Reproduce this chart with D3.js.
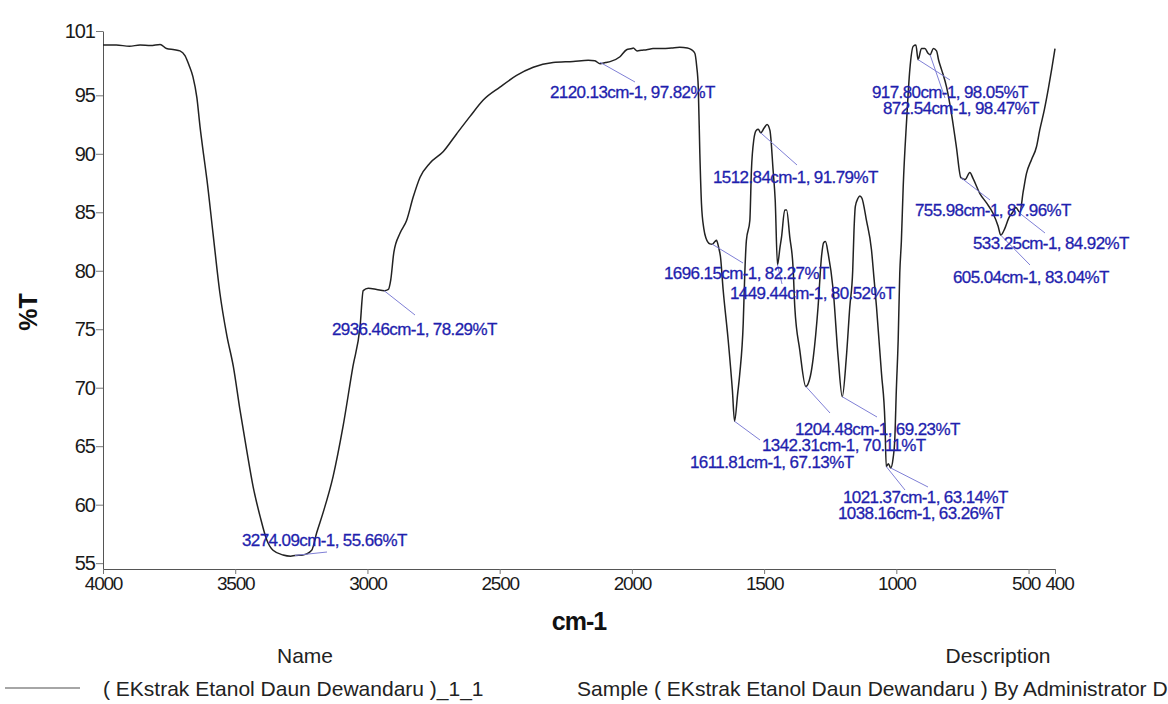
<!DOCTYPE html>
<html>
<head>
<meta charset="utf-8">
<script src="https://cdn.jsdelivr.net/npm/d3@7/dist/d3.min.js"></script>
<style>
body{margin:0;background:#fff}
svg{display:block}
</style>
</head>
<body>
<div id="chart"></div>
<script>

// spectrum (cm-1, %T)
const wavenumber=[4000,3950,3900,3860,3820,3784,3760,3730,3709,3690,3675,3660,3645,3633,3620,3607,3584,3558,3532,3507,3482,3457,3432,3406,3381,3357,3319,3290,3274.09,3244,3211,3192,3168,3130,3093,3055,3028,3016,2997,2965,2936.46,2921,2912,2900,2877,2852,2827,2801,2764,2713,2663,2612,2562,2499,2436,2373,2298,2222,2165,2140,2120.13,2100,2080,2045,2020,2000,1995,1980,1965,1944,1920,1882,1850,1819,1790,1775,1762,1755,1749,1743,1737,1728,1720,1705,1696.15,1686,1680,1672,1665,1655,1636,1620,1611.81,1600,1592,1579,1573,1567,1554,1548,1539,1530,1522,1512.84,1500,1489,1478,1466,1458,1449.44,1440,1434,1422,1415,1403,1390,1384,1365,1342.31,1325,1314,1296,1283,1275,1268,1258,1239,1220,1204.48,1189,1176,1165,1160,1155,1145,1138,1130,1113,1094,1085,1075,1056,1043,1038.16,1030,1021.37,1012,1006,1000,993,987,981,974,961,949,936,926,917.8,905,892,880,872.54,860,848,840,829,810,792,773,755.98,740,722,710,684,659,634,615,605.04,590,575,560,548,533.25,520,508,489,470,458,440,425,412,400]
const transmittance=[99.3,99.3,99.2,99.3,99.25,99.35,99.0,98.9,98.8,98.4,97.6,96.6,94.8,92.3,90.0,87.8,83.2,78.1,74.5,71.8,68.1,64.7,61.5,59.0,57.0,56.1,55.7,55.6,55.66,55.7,56.1,57.6,59.3,62.4,66.6,71.8,75.2,78.3,78.5,78.4,78.29,78.4,79.2,81.6,83.2,84.3,86.3,88.0,89.2,90.2,91.7,93.2,94.6,95.7,96.7,97.4,97.8,97.9,98.0,97.95,97.7,97.8,97.9,98.3,98.9,99.0,99.05,98.8,98.85,98.9,99.0,99.0,99.05,99.1,99.05,98.9,98.6,97.5,95.7,90.0,85.8,83.6,82.8,82.3,82.27,82.5,82.6,82.0,81.2,78.4,74.1,69.8,67.13,69.5,71.2,75.5,79.8,82.6,84.3,88.6,91.2,92.0,92.1,91.79,92.2,92.5,92.0,88.6,86.0,80.52,82.0,82.9,85.2,85.2,82.9,80.1,76.9,73.2,70.11,71.0,72.6,76.9,81.2,82.4,82.5,81.5,78.4,72.6,69.23,72.6,76.9,80.0,83.5,85.5,86.2,86.4,86.2,84.3,81.8,79.5,76.9,71.2,67.0,63.26,63.5,63.14,64.0,65.5,69.8,74.1,79.8,82.5,87.2,92.9,97.2,99.2,99.3,98.05,99.0,99.0,98.6,98.47,99.0,98.8,98.0,97.2,95.7,93.5,90.6,87.96,87.8,88.4,87.9,86.6,85.8,84.9,83.8,83.04,83.6,84.5,85.0,85.4,85.0,86.8,88.3,89.5,90.6,92.0,93.8,95.6,97.3,99.0]

const xTicks=[4000,3500,3000,2500,2000,1500,1000,500,400]
const yTicks=[55,60,65,70,75,80,85,90,95,100.5]
const yTickText=["55","60","65","70","75","80","85","90","95","101"]

// peak picks printed on the plot
const peakWn=[3274.09,2936.46,2120.13,1696.15,1611.81,1512.84,1449.44,1342.31,1204.48,1021.37,1038.16,917.80,872.54,755.98,533.25,605.04]
const peakT=[55.66,78.29,97.82,82.27,67.13,91.79,80.52,70.11,69.23,63.14,63.26,98.05,98.47,87.96,84.92,83.04]

const legendName="( EKstrak Etanol Daun Dewandaru )_1_1"
const legendDesc="Sample ( EKstrak Etanol Daun Dewandaru ) By Administrator Date"

// label text position (left, middle) and leader end, in px
const labelPos=[
[242,540,327,552],
[332,329,415,315],
[550,92,635,82],
[664,273,743,263],
[690,462,760,440],
[713,177,797,165],
[730,293,782,284],
[762,445,830,413],
[795,429,877,417],
[843,497,928,487],
[838,513,905,490],
[872,92,950,80],
[883,108,945,98],
[915,210,990,200],
[973,243,1045,233],
[953,277,1030,265]
]

const width=1168
const height=704

const svg=d3.select("#chart")
.append("svg")
.attr("width",width)
.attr("height",height)
.style("font-family","'Liberation Sans',Arial,sans-serif")

const x=d3.scaleLinear().domain([4000,400]).range([103,1055])
const y=d3.scaleLinear().domain([54.5,100.5]).range([569,31])

// axes
const yAxis=svg.append("g")
.attr("transform","translate(103,0)")
.call(d3.axisLeft(y).tickValues(yTicks).tickSize(7).tickSizeOuter(0).tickPadding(1)
.tickFormat((d,i)=>yTickText[i]))

yAxis.selectAll("text")
.attr("font-size","20px")
.attr("letter-spacing","-1px")
.attr("fill","#1a1a1a")

const xAxis=svg.append("g")
.attr("transform","translate(0,569)")
.call(d3.axisBottom(x).tickValues(xTicks).tickSize(5).tickSizeOuter(0).tickPadding(3)
.tickFormat(d3.format("d")))

// 500 and 400 sit close, push them apart a little
xAxis.selectAll("text")
.attr("font-size","19px")
.attr("letter-spacing","-1.2px")
.attr("fill","#1a1a1a")
.attr("dx",d=>d===500?"-3":d===400?"4":"0")

svg.selectAll(".domain").attr("stroke","#555")
svg.selectAll(".tick line").attr("stroke","#777")

// spectrum
const pts=wavenumber.map((w,i)=>[w,transmittance[i]])

const line=d3.line()
.x(d=>x(d[0]))
.y(d=>y(d[1]))
.curve(d3.curveMonotoneX)

svg.append("path")
.datum(pts)
.attr("d",line)
.attr("fill","none")
.attr("stroke","#222")
.attr("stroke-width",1.5)

// peak labels
const fmt=d3.format(".2f")

const peaks=peakWn.map((w,i)=>({wn:w,t:peakT[i],pos:labelPos[i]}))

svg.append("g")
.selectAll("line")
.data(peaks)
.enter()
.append("line")
.attr("x1",d=>x(d.wn))
.attr("y1",d=>y(d.t))
.attr("x2",d=>d.pos[2])
.attr("y2",d=>d.pos[3])
.attr("stroke","#7f7fd6")
.attr("stroke-width",1)

svg.append("g")
.selectAll("text")
.data(peaks)
.enter()
.append("text")
.attr("x",d=>d.pos[0])
.attr("y",d=>d.pos[1])
.attr("dy","0.36em")
.attr("font-size","17px")
.attr("letter-spacing","-0.6px")
.attr("fill","#1f1fae")
.attr("stroke","#1f1fae")
.attr("stroke-width",0.3)
.text(d=>fmt(d.wn)+"cm-1, "+fmt(d.t)+"%T")

// axis titles
svg.append("text")
.attr("x",579)
.attr("y",621)
.attr("dy","0.36em")
.attr("text-anchor","middle")
.attr("font-size","25px")
.attr("font-weight","bold")
.attr("letter-spacing","-1px")
.attr("fill","#111")
.text("cm-1")

svg.append("text")
.attr("transform","translate(28,312) rotate(-90)")
.attr("dy","0.36em")
.attr("text-anchor","middle")
.attr("font-size","25px")
.attr("font-weight","bold")
.attr("fill","#111")
.text("%T")

// legend block
svg.append("text")
.attr("x",305)
.attr("y",655)
.attr("dy","0.36em")
.attr("text-anchor","middle")
.attr("font-size","21px")
.attr("fill","#222")
.text("Name")

svg.append("text")
.attr("x",998)
.attr("y",655)
.attr("dy","0.36em")
.attr("text-anchor","middle")
.attr("font-size","21px")
.attr("fill","#222")
.text("Description")

svg.append("line")
.attr("x1",5)
.attr("x2",80)
.attr("y1",688)
.attr("y2",688)
.attr("stroke","#888")
.attr("stroke-width",1.5)

svg.append("text")
.attr("x",103)
.attr("y",688)
.attr("dy","0.36em")
.attr("font-size","21px")
.attr("fill","#222")
.text(legendName)

svg.append("text")
.attr("x",577)
.attr("y",688)
.attr("dy","0.36em")
.attr("font-size","21px")
.attr("fill","#222")
.text(legendDesc)

</script>
</body>
</html>
